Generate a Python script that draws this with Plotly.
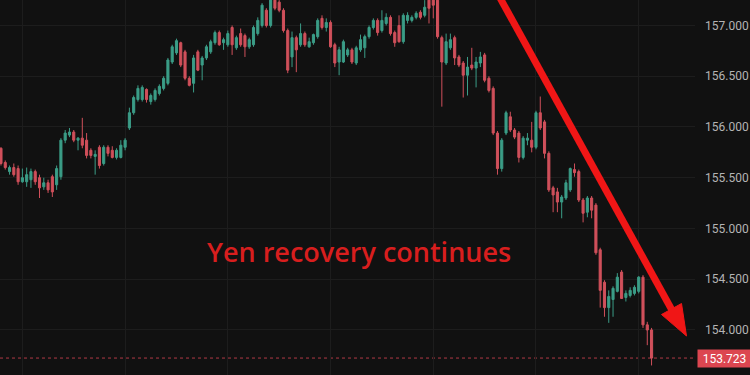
import plotly.graph_objects as go

# ---- data (USD/JPY hourly candles) ----
opens = [155.79, 155.65, 155.56, 155.60, 155.59, 155.46, 155.46, 155.48, 155.56, 155.50,
         155.41, 155.45, 155.51, 155.43, 155.51, 155.87, 155.92, 155.95, 155.87, 155.89,
         155.87, 155.77, 155.71, 155.80, 155.64, 155.80, 155.77, 155.70, 155.70, 155.80,
         155.99, 156.14, 156.27, 156.27, 156.37, 156.25, 156.27, 156.33, 156.38, 156.43,
         156.64, 156.73, 156.83, 156.74, 156.48, 156.43, 156.74, 156.61, 156.68, 156.74,
         156.83, 156.93, 156.83, 156.81, 156.98, 156.78, 156.92, 156.90, 156.79, 156.81,
         156.92, 157.00, 157.15, 157.00, 157.25, 157.23, 157.15, 156.95, 156.69, 156.88,
         156.81, 156.92, 156.79, 156.83, 156.89, 157.07, 156.98, 157.03, 156.81, 156.64,
         156.64, 156.71, 156.76, 156.63, 156.76, 156.78, 156.89, 156.98, 157.05, 156.95,
         157.02, 157.08, 156.93, 157.00, 156.84, 157.05, 157.05, 157.08, 157.13, 157.10,
         157.25, 157.25, 157.25, 156.88, 156.63, 156.78, 156.88, 156.69, 156.63, 156.51,
         156.61, 156.58, 156.63, 156.71, 156.48, 156.38, 155.94, 155.59, 155.94, 156.10,
         155.97, 155.94, 155.70, 155.87, 155.87, 155.80, 156.14, 156.05, 155.74, 155.40,
         155.36, 155.26, 155.30, 155.38, 155.58, 155.56, 155.28, 155.16, 155.30, 155.23,
         154.79, 154.47, 154.22, 154.30, 154.38, 154.57, 154.32, 154.34, 154.36, 154.38,
         154.52, 154.05, 154.00]

highs = [155.80, 155.67, 155.62, 155.64, 155.62, 155.59, 155.60, 155.59, 155.58, 155.53,
         155.50, 155.48, 155.53, 155.62, 155.89, 155.97, 155.99, 155.97, 155.90, 156.09,
         155.94, 155.79, 155.77, 155.82, 155.82, 155.82, 155.81, 155.79, 155.87, 155.89,
         156.19, 156.31, 156.41, 156.41, 156.38, 156.33, 156.38, 156.42, 156.50, 156.68,
         156.81, 156.87, 156.84, 156.76, 156.50, 156.71, 156.76, 156.70, 156.81, 156.86,
         156.95, 156.95, 156.88, 156.95, 157.00, 156.90, 156.97, 156.92, 156.88, 157.00,
         157.08, 157.22, 157.17, 157.28, 157.28, 157.25, 157.17, 156.97, 156.94, 156.90,
         157.02, 156.94, 156.88, 156.92, 157.07, 157.10, 157.07, 157.05, 156.83, 156.79,
         156.86, 156.78, 156.78, 156.80, 156.91, 156.91, 157.00, 157.07, 157.07, 157.15,
         157.12, 157.10, 156.95, 157.10, 157.12, 157.13, 157.10, 157.14, 157.15, 157.25,
         157.27, 157.27, 157.30, 156.90, 156.92, 156.92, 156.90, 156.71, 156.65, 156.69,
         156.78, 156.69, 156.74, 156.73, 156.50, 156.40, 155.96, 155.89, 156.16, 156.15,
         155.99, 155.96, 155.91, 155.94, 156.05, 156.16, 156.30, 156.07, 155.76, 155.42,
         155.40, 155.33, 155.48, 155.60, 155.64, 155.58, 155.30, 155.32, 155.32, 155.25,
         154.81, 154.49, 154.39, 154.43, 154.56, 154.59, 154.39, 154.42, 154.44, 154.53,
         154.54, 154.08, 154.02]

lows = [155.62, 155.58, 155.53, 155.51, 155.43, 155.45, 155.41, 155.40, 155.43, 155.30,
        155.38, 155.35, 155.31, 155.38, 155.48, 155.84, 155.90, 155.85, 155.77, 155.79,
        155.69, 155.69, 155.53, 155.59, 155.62, 155.71, 155.69, 155.68, 155.69, 155.77,
        155.97, 156.12, 156.25, 156.25, 156.24, 156.22, 156.25, 156.31, 156.36, 156.41,
        156.62, 156.71, 156.59, 156.46, 156.40, 156.34, 156.55, 156.46, 156.66, 156.72,
        156.81, 156.80, 156.76, 156.79, 156.71, 156.76, 156.79, 156.69, 156.77, 156.79,
        156.90, 156.98, 156.98, 156.98, 157.15, 157.13, 156.93, 156.53, 156.59, 156.54,
        156.79, 156.79, 156.78, 156.81, 156.87, 156.96, 156.94, 156.78, 156.59, 156.51,
        156.63, 156.69, 156.62, 156.61, 156.74, 156.68, 156.87, 156.96, 156.90, 156.93,
        157.00, 156.90, 156.79, 156.83, 156.82, 157.02, 157.03, 157.06, 157.06, 157.08,
        157.02, 157.07, 156.87, 156.20, 156.61, 156.76, 156.61, 156.59, 156.29, 156.31,
        156.56, 156.39, 156.59, 156.44, 156.34, 155.92, 155.53, 155.56, 155.92, 155.95,
        155.88, 155.65, 155.68, 155.82, 155.75, 155.78, 155.97, 155.69, 155.36, 155.16,
        155.16, 155.10, 155.28, 155.36, 155.51, 155.26, 155.06, 155.11, 155.10, 154.74,
        154.22, 154.13, 154.07, 154.13, 154.37, 154.31, 154.28, 154.32, 154.34, 154.36,
        154.02, 153.85, 153.65]

closes = [155.64, 155.60, 155.60, 155.53, 155.46, 155.50, 155.53, 155.56, 155.46, 155.40,
          155.45, 155.38, 155.36, 155.59, 155.87, 155.94, 155.95, 155.87, 155.89, 155.82,
          155.72, 155.72, 155.73, 155.62, 155.80, 155.74, 155.70, 155.77, 155.82, 155.87,
          156.14, 156.29, 156.38, 156.39, 156.27, 156.31, 156.36, 156.40, 156.48, 156.66,
          156.79, 156.85, 156.61, 156.48, 156.41, 156.68, 156.56, 156.68, 156.79, 156.84,
          156.93, 156.81, 156.86, 156.92, 156.81, 156.88, 156.81, 156.79, 156.86, 156.98,
          157.05, 157.20, 157.00, 157.25, 157.17, 157.15, 156.95, 156.56, 156.88, 156.76,
          156.92, 156.81, 156.84, 156.91, 157.05, 156.98, 157.03, 156.79, 156.63, 156.76,
          156.84, 156.76, 156.64, 156.78, 156.86, 156.89, 156.98, 157.05, 156.93, 157.05,
          157.08, 156.92, 156.83, 156.84, 157.10, 157.10, 157.08, 157.12, 157.08, 157.18,
          157.17, 157.20, 156.89, 156.64, 156.84, 156.86, 156.68, 156.61, 156.51, 156.59,
          156.58, 156.64, 156.69, 156.46, 156.36, 155.94, 155.59, 155.87, 156.14, 155.97,
          155.90, 155.70, 155.89, 155.89, 155.80, 156.14, 155.99, 155.74, 155.38, 155.33,
          155.26, 155.31, 155.45, 155.59, 155.55, 155.28, 155.15, 155.30, 155.18, 154.76,
          154.39, 154.22, 154.33, 154.41, 154.52, 154.31, 154.36, 154.39, 154.42, 154.52,
          154.05, 154.00, 153.723]

bars = list(range(len(opens)))
price_ticks = [154.0, 154.5, 155.0, 155.5, 156.0, 156.5, 157.0]
price_tick_labels = ["154.000", "154.500", "155.000", "155.500", "156.000", "156.500", "157.000"]
last_price = closes[-1]
last_label = "153.723"
headline = "Yen recovery continues"

# ---- style ----
BG = "#111111"
GRID = "#1d1d1d"
UP = "#3b9d87"
DOWN = "#d0505b"
ARROW = "#f01616"

W, H = 750, 375
PLOT_W = 695  # plot area width in px

fig = go.Figure()
fig.add_trace(go.Candlestick(
    x=bars, open=opens, high=highs, low=lows, close=closes,
    increasing=dict(line=dict(color=UP, width=1), fillcolor=UP),
    decreasing=dict(line=dict(color=DOWN, width=1), fillcolor=DOWN),
    whiskerwidth=0, showlegend=False, hoverinfo="skip",
))

def px(x, y):
    return x / PLOT_W, 1 - y / H

shapes = []
# dotted last-price line
shapes.append(dict(type="line", xref="paper", yref="y", x0=0, x1=1,
                   y0=last_price, y1=last_price,
                   line=dict(color="#b03a45", width=1, dash="dot"), layer="below"))
# arrow shaft
sx0, sy0 = px(499, -4)
sx1, sy1 = px(673, 312)
shapes.append(dict(type="line", xref="paper", yref="paper", x0=sx0, y0=sy0, x1=sx1, y1=sy1,
                   line=dict(color=ARROW, width=7)))
# arrow head
t = px(686.5, 336)
b1 = px(681.5, 303.5)
b2 = px(661.5, 314.5)
shapes.append(dict(type="path", xref="paper", yref="paper",
                   path=f"M {t[0]} {t[1]} L {b1[0]} {b1[1]} L {b2[0]} {b2[1]} Z",
                   fillcolor=ARROW, line=dict(color=ARROW, width=1)))

tx, ty = px(359, 251)
annotations = [
    dict(text=headline, xref="paper", yref="paper", x=tx, y=ty,
         xanchor="center", yanchor="middle", showarrow=False,
         font=dict(family="Open Sans", size=27, color="#d81e1e", weight=600)),
    dict(text=last_label, xref="paper", yref="y", x=1, y=last_price,
         xanchor="left", yanchor="middle", xshift=2, showarrow=False,
         bgcolor="#dc4650", width=51, height=15, borderpad=1,
         font=dict(family="Roboto", size=12, color="#ffffff")),
]

fig.update_layout(
    width=W, height=H, autosize=False,
    margin=dict(l=0, r=W - PLOT_W, t=0, b=0),
    paper_bgcolor=BG, plot_bgcolor=BG,
    shapes=shapes, annotations=annotations,
    xaxis=dict(range=[-0.23, 162.15], rangeslider=dict(visible=False),
               showticklabels=False, tickvals=[5, 29, 53, 77, 101, 125, 149],
               showgrid=True, gridcolor=GRID, gridwidth=1, zeroline=False,
               showline=False, ticks=""),
    yaxis=dict(range=[153.556, 157.251], side="right",
               tickvals=price_ticks, ticktext=price_tick_labels,
               showgrid=True, gridcolor=GRID, gridwidth=1, zeroline=False,
               showline=False, ticks="", ticklabelstandoff=9,
               tickfont=dict(family="Roboto", size=12, color="#b4b4b4")),
    font=dict(family="Roboto"),
)

fig.write_html("out.html")
